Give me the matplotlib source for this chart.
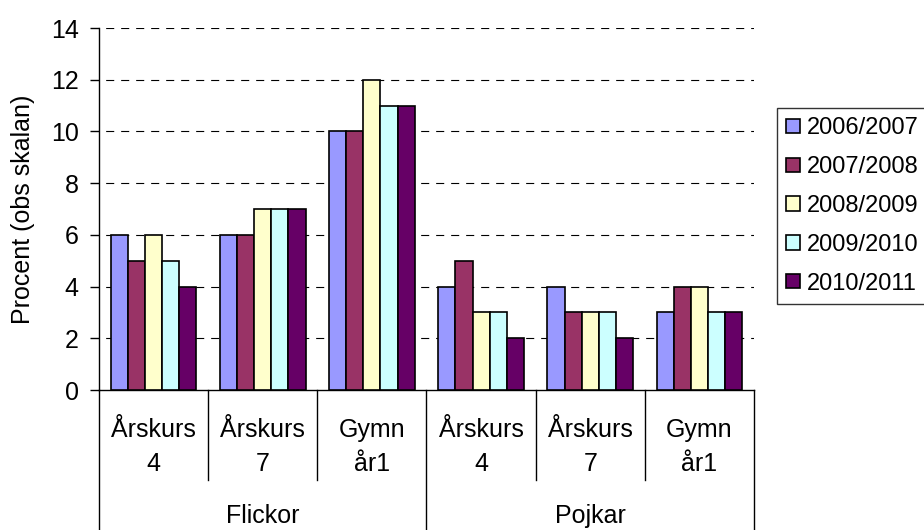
import matplotlib.pyplot as plt
import matplotlib.transforms as mtransforms
import numpy as np

plt.rcParams["font.family"] = ["Liberation Sans", "DejaVu Sans"]
plt.rcParams["lines.scale_dashes"] = False

top_labels = ["Årskurs", "Årskurs", "Gymn", "Årskurs", "Årskurs", "Gymn"]
bottom_labels = ["4", "7", "år1", "4", "7", "år1"]
groups = ["Flickor", "Pojkar"]
years = ["2006/2007", "2007/2008", "2008/2009", "2009/2010", "2010/2011"]
colors = ["#9999FF", "#993366", "#FFFFCC", "#CCFFFF", "#660066"]

# values per school year across the six sub-categories
v_2006 = [6, 6, 10, 4, 4, 3]
v_2007 = [5, 6, 10, 5, 3, 4]
v_2008 = [6, 7, 12, 3, 3, 4]
v_2009 = [5, 7, 11, 3, 3, 3]
v_2010 = [4, 7, 11, 2, 2, 3]
series = [v_2006, v_2007, v_2008, v_2009, v_2010]

FS = 18

fig = plt.figure(figsize=(9.24, 5.30), dpi=100)
ax = fig.add_axes([99 / 924, 140 / 530, 655 / 924, 362 / 530])

x = np.arange(len(top_labels))
width = 0.157
for i, (vals, col, lab) in enumerate(zip(series, colors, years)):
    ax.bar(x + (i - 2) * width, vals, width, color=col, edgecolor="black",
           linewidth=1.2, label=lab, zorder=3)

ax.set_xlim(-0.5, len(top_labels) - 0.5)
ax.set_ylim(0, 14)
ax.set_yticks(range(0, 15, 2))
ax.tick_params(axis="y", labelsize=FS, length=6.5, width=1, pad=8)
ax.set_xticks([])
for yv in range(2, 15, 2):
    ax.axhline(yv, color="black", linewidth=0.8, linestyle=(6, (5.8, 5.0)), zorder=1)
for s in ["top", "right"]:
    ax.spines[s].set_visible(False)
ax.spines["left"].set_linewidth(1)
ax.spines["bottom"].set_linewidth(1)
fig.text(23 / 924, (530 - 209) / 530, "Procent (obs skalan)", rotation=90,
         ha="center", va="center", fontsize=FS)

# hierarchical category axis
trans = mtransforms.blended_transform_factory(ax.transData, ax.transAxes)
n = len(top_labels)
for k in range(0, n + 1):
    b = k - 0.5
    ybot = -0.39 if k in (0, 3, n) else -0.2486
    ax.plot([b, b], [0, ybot], color="black", linewidth=1, transform=trans, clip_on=False)
for k in range(n):
    ax.text(k, -0.130, top_labels[k], transform=trans, ha="center", va="baseline", fontsize=FS)
    ax.text(k, -0.224, bottom_labels[k], transform=trans, ha="center", va="baseline", fontsize=FS)
for g, lab in enumerate(groups):
    ax.text(1 + 3 * g, -0.367, lab, transform=trans, ha="center", va="baseline", fontsize=FS)

leg = fig.legend(loc="upper left", bbox_to_anchor=(777 / 924, (530 - 108) / 530), fontsize=17,
                 frameon=True, fancybox=False, edgecolor="black", handlelength=0.56,
                 handleheight=0.56, handletextpad=0.3, labelspacing=0.71,
                 borderpad=0.4, borderaxespad=0)
leg.get_frame().set_linewidth(1)

fig.savefig("out.png", dpi=100)
